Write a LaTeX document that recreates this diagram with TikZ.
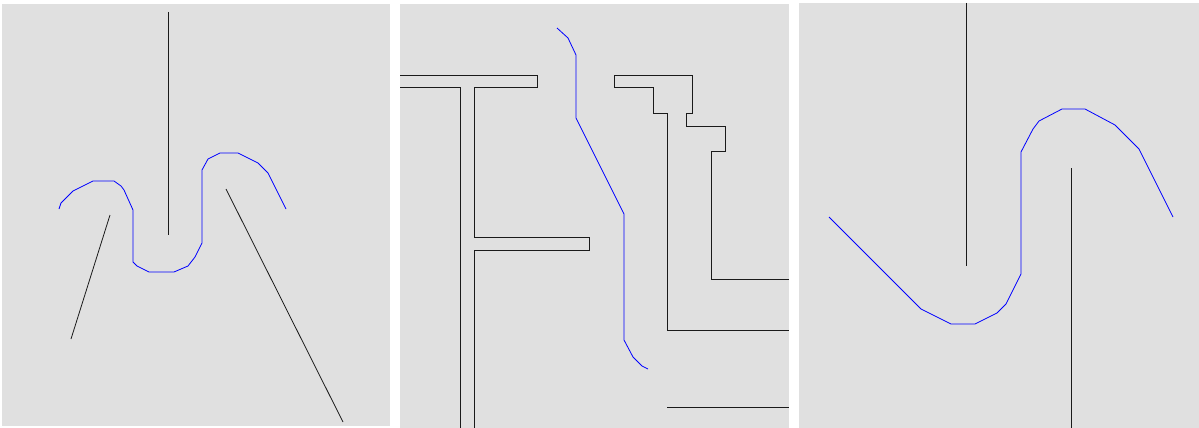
\documentclass[tikz,border=0pt]{standalone}
\definecolor{panelgray}{HTML}{E0E0E0}
\definecolor{wire}{HTML}{1A1A1A}
\definecolor{trace}{HTML}{0000FF}
\tikzset{
  panel/.style={fill=panelgray, draw=none},
  wall/.style={draw=wire, line width=0.8pt, line join=miter},
  route/.style={draw=trace, line width=0.8pt, line join=round}
}
\begin{document}
\begin{tikzpicture}[x=1pt,y=-1pt]
\useasboundingbox (0,0) rectangle (1199,428);
\fill[white] (0,0) rectangle (1199,428);
% panels
\path[panel] (2,4) rectangle (389.5,426);
\path[panel] (400,4) rectangle (789,428);
\path[panel] (799,3) rectangle (1199,428);

% ---- panel 1 ----
\draw[wall] (168,12) -- (168,235);
\draw[wall] (110,215) -- (71,339);
\draw[wall] (226,189) -- (343,422);
\draw[route] (59,209) -- (61,203) -- (73,191) -- (93,181) -- (114,181) -- (121,186) -- (124,190)
  -- (133,210) -- (133,262) -- (137,266) -- (149,272) -- (174,272) -- (188,266) -- (195,257)
  -- (202,243) -- (202,170) -- (208,159) -- (220,153) -- (238,153) -- (258,163) -- (268,173) -- (286,209);

% ---- panel 2 ----
\draw[wall] (400,75) -- (537,75) -- (537,87) -- (474,87) -- (474,237) -- (589,237) -- (589,250) -- (474,250) -- (474,428);
\draw[wall] (400,87) -- (460,87) -- (460,428);
\draw[wall] (789,279) -- (711,279) -- (711,151) -- (725,151) -- (725,126) -- (686,126) -- (686,113)
  -- (692,113) -- (692,75) -- (614,75) -- (614,87) -- (653,87) -- (653,113) -- (667,113) -- (667,330) -- (789,330);
\draw[wall] (667,407) -- (789,407);
\draw[route] (557,28) -- (568,38) -- (576,55) -- (576,118) -- (624,214) -- (624,340) -- (633,357) -- (642,366) -- (648,369);

% ---- panel 3 ----
\draw[wall] (966,3) -- (966,266);
\draw[wall] (1071,168) -- (1071,428);
\draw[route] (829,217) -- (921,309) -- (951,324) -- (975,324) -- (997,313) -- (1006,304) -- (1021,274)
  -- (1021,152) -- (1033,129) -- (1039,121) -- (1062,109) -- (1085,109) -- (1115,125) -- (1139,149) -- (1173,217);
\end{tikzpicture}
\end{document}
